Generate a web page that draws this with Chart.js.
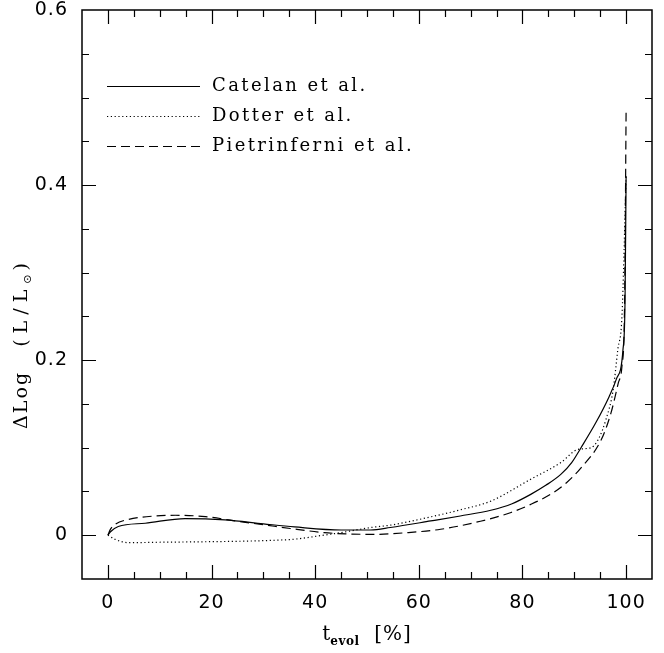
<!DOCTYPE html>
<html>
<head>
<meta charset="utf-8">
<script src="https://cdn.jsdelivr.net/npm/chart.js@4"></script>
<style>
  html, body { margin: 0; padding: 0; background: #fff; }
  canvas { display: block; }
</style>
</head>
<body>
<canvas id="chart" width="664" height="653"></canvas>
<script>
// values
const seriesNames = ["Catelan et al.", "Dotter et al.", "Pietrinferni et al."];

const tCatelan = [0, 0.5, 2, 7.2, 14.9, 22.6, 30, 36, 45, 50.7, 54.5, 62.3, 68, 73.9, 78, 81.6, 84.5, 87.4, 89.5, 91.3, 94.2, 96.7, 98.1, 99.4, 99.8, 100];
const dlCatelan = [0, 0.004, 0.01, 0.0137, 0.019, 0.0175, 0.013, 0.0095, 0.006, 0.006, 0.0088, 0.0163, 0.022, 0.0285, 0.036, 0.0467, 0.057, 0.0695, 0.083, 0.1, 0.129, 0.158, 0.178, 0.212, 0.269, 0.41];

const tDotter = [0, 1.5, 4, 10, 16.8, 26, 31, 36, 41, 45, 50.7, 54.5, 62.3, 68, 73.9, 81.6, 87.4, 90.7, 93.2, 94.6, 96.1, 97.5, 98.4, 99.2, 100];
const dlDotter = [0, -0.005, -0.0085, -0.008, -0.0076, -0.0068, -0.006, -0.0045, -0.0005, 0.003, 0.0088, 0.0115, 0.021, 0.029, 0.039, 0.064, 0.083, 0.098, 0.1, 0.109, 0.132, 0.166, 0.212, 0.25, 0.41];

const tPietr = [0, 0.5, 1.4, 3.9, 9.1, 13, 18.8, 24.6, 30, 35.2, 41.7, 46, 51.3, 57.8, 64.2, 71.9, 77.8, 81.5, 85.5, 88.5, 91.3, 95.2, 97.1, 98.5, 99.2, 99.7, 100];
const dlPietr = [0, 0.007, 0.0125, 0.018, 0.022, 0.0228, 0.0213, 0.0163, 0.012, 0.0077, 0.003, 0.0015, 0.001, 0.003, 0.0068, 0.016, 0.026, 0.035, 0.047, 0.06, 0.077, 0.109, 0.14, 0.174, 0.193, 0.26, 0.483];

const xTicks = [0, 20, 40, 60, 80, 100];
const yTicks = [0, 0.2, 0.4, 0.6];

const pts = (xs, ys) => xs.map((x, i) => ({ x: x, y: ys[i] }));

// inward ticks, frame, legend and axis titles with subscripts
const decor = {
  id: "decor",
  beforeDraw(chart) {
    chart.ctx.letterSpacing = "1px";
  },
  afterDraw(chart) {
    const ctx = chart.ctx;
    const a = chart.chartArea;
    const xs = chart.scales.x, ys = chart.scales.y;
    ctx.save();
    ctx.strokeStyle = "#000";
    ctx.lineWidth = 1.5;
    ctx.strokeRect(a.left, a.top, a.right - a.left, a.bottom - a.top);

    ctx.lineWidth = 1.2;
    ctx.beginPath();
    for (let v = -5; v <= 105; v += 5) {
      const px = Math.round(xs.getPixelForValue(v)) + 0.5;
      if (px <= a.left + 1 || px >= a.right - 1) continue;
      const len = xTicks.includes(v) ? 14 : 7;
      ctx.moveTo(px, a.bottom); ctx.lineTo(px, a.bottom - len);
      ctx.moveTo(px, a.top); ctx.lineTo(px, a.top + len);
    }
    for (let k = -1; k <= 12; k++) {
      const v = k * 0.05;
      const py = Math.round(ys.getPixelForValue(v)) + 0.5;
      if (py <= a.top + 1 || py >= a.bottom - 1) continue;
      const len = (k % 4 === 0) ? 14 : 7;
      ctx.moveTo(a.left, py); ctx.lineTo(a.left + len, py);
      ctx.moveTo(a.right, py); ctx.lineTo(a.right - len, py);
    }
    ctx.stroke();

    // legend
    ctx.font = "18px 'DejaVu Serif'";
    ctx.letterSpacing = "2.4px";
    ctx.textBaseline = "middle";
    ctx.fillStyle = "#000";
    chart.data.datasets.forEach((ds, i) => {
      const y = a.top + 76 + i * 30 + 0.5;
      ctx.setLineDash(ds.borderDash || []);
      ctx.lineWidth = ds.borderWidth;
      ctx.beginPath();
      ctx.moveTo(a.left + 25, y); ctx.lineTo(a.left + 118, y);
      ctx.stroke();
      ctx.setLineDash([]);
      ctx.fillText(ds.label, a.left + 130, y);
    });

    // text pieces: [text, font, baseline shift, letter spacing]
    const drawParts = (parts, cx, cy) => {
      let w = 0;
      parts.forEach(p => { ctx.font = p[1]; ctx.letterSpacing = p[3]; w += ctx.measureText(p[0]).width; });
      let x = cx - w / 2;
      ctx.textBaseline = "alphabetic";
      ctx.textAlign = "left";
      parts.forEach(p => {
        ctx.font = p[1];
        ctx.letterSpacing = p[3];
        ctx.fillText(p[0], x, cy + p[2]);
        x += ctx.measureText(p[0]).width;
      });
    };

    // x title: t_evol [%]
    drawParts([
      ["t", "20px 'DejaVu Serif'", 0, "0px"],
      ["evol", "bold 12px 'DejaVu Serif'", 5, "0.5px"],
      ["  [%]", "20px 'DejaVu Serif'", 0, "1px"]
    ], (a.left + a.right) / 2, 640);

    // y title: ΔLog (L/L⊙)
    ctx.save();
    ctx.translate(27, 346);
    ctx.rotate(-Math.PI / 2);
    drawParts([
      ["\u0394Log", "19px 'DejaVu Serif'", 0, "2px"],
      ["    ", "19px 'DejaVu Serif'", 0, "0px"],
      ["(L/L", "19px 'DejaVu Serif'", 0, "6px"],
      ["\u2299", "11px 'DejaVu Sans'", 4, "4px"],
      [")", "19px 'DejaVu Serif'", 0, "0px"]
    ], 0, 0);
    ctx.restore();

    ctx.restore();
  }
};

new Chart(document.getElementById("chart"), {
  type: "line",
  data: {
    datasets: [
      { label: seriesNames[0], data: pts(tCatelan, dlCatelan), borderColor: "#000", borderWidth: 1.2, borderDash: [] },
      { label: seriesNames[1], data: pts(tDotter, dlDotter), borderColor: "#000", borderWidth: 1.2, borderDash: [1.2, 2.6] },
      { label: seriesNames[2], data: pts(tPietr, dlPietr), borderColor: "#000", borderWidth: 1.2, borderDash: [9, 5] }
    ]
  },
  options: {
    responsive: false,
    animation: false,
    layout: { padding: { top: 10, right: 12, left: 0, bottom: 0 } },
    elements: {
      point: { radius: 0 },
      line: { cubicInterpolationMode: "monotone", fill: false }
    },
    plugins: { legend: { display: false }, tooltip: { enabled: false } },
    scales: {
      x: {
        type: "linear",
        min: -5, max: 105,
        grid: { display: false, drawTicks: false },
        border: { display: false },
        afterBuildTicks: s => { s.ticks = xTicks.map(v => ({ value: v })); },
        afterFit: s => { s.height = 74; s.paddingLeft = 0; s.paddingRight = 0; },
        ticks: { color: "#000", padding: 13, font: { family: "DejaVu Sans", size: 19 }, maxRotation: 0 }
      },
      y: {
        type: "linear",
        min: -0.05, max: 0.6,
        grid: { display: false, drawTicks: false },
        border: { display: false },
        afterBuildTicks: s => { s.ticks = yTicks.map(v => ({ value: v })); },
        afterFit: s => { s.width = 82; s.paddingTop = 0; s.paddingBottom = 0; },
        ticks: {
          color: "#000", padding: 14, font: { family: "DejaVu Sans", size: 19 },
          callback: v => v === 0 ? "0" : v.toFixed(1)
        }
      }
    }
  },
  plugins: [decor]
});
</script>
</body>
</html>
